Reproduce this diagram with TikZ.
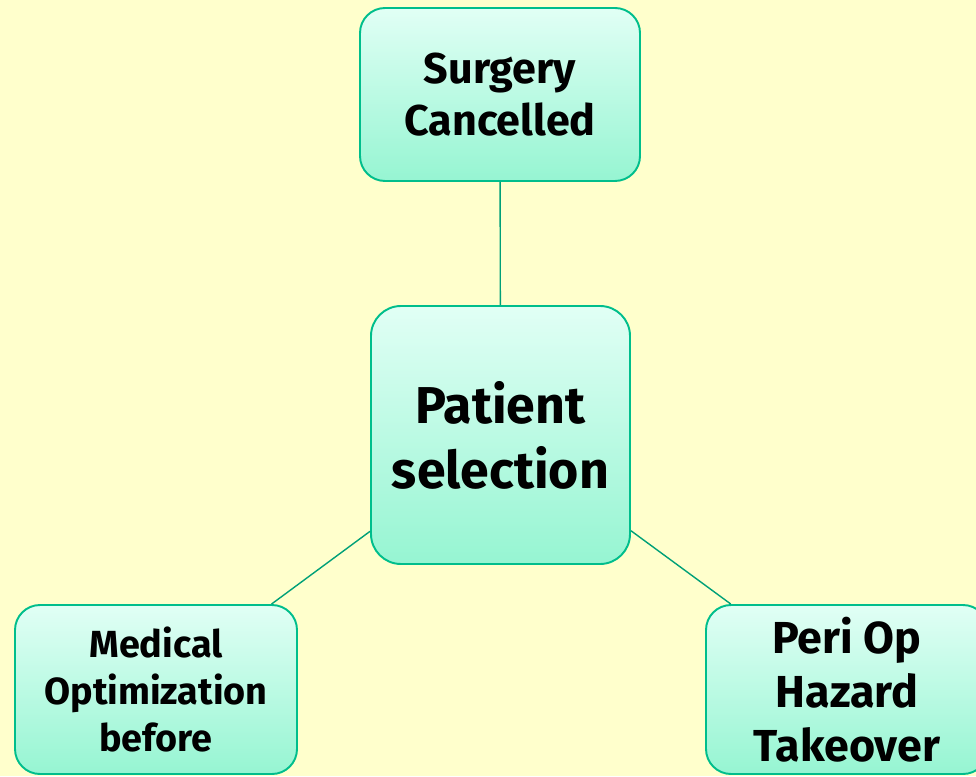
\documentclass[tikz,border=0pt]{standalone}
\usepackage{fontspec}
\setmainfont{Fira Sans}
\usepackage{tikz}
\definecolor{bgyellow}{RGB}{255,255,204}
\definecolor{boxline}{RGB}{0,190,140}
\definecolor{boxtop}{RGB}{225,255,245}
\definecolor{boxbot}{RGB}{150,245,210}
\definecolor{linkline}{RGB}{0,160,120}

\begin{document}
\begin{tikzpicture}[x=1cm,y=1cm,
  box/.style={draw=boxline,line width=1.1pt,rounded corners=0.5cm,
    top color=boxtop,bottom color=boxbot,align=center,inner sep=0pt},
  link/.style={draw=linkline,line width=0.8pt}]
\fill[bgyellow] (0,0) rectangle (19.52,15.52);
\useasboundingbox (0,0) rectangle (19.52,15.52);
\node[box,minimum width=5.6cm,minimum height=3.46cm,
  font=\bfseries\fontsize{24.5}{29.6}\selectfont] (cancel) at (10,13.63)
  {Surgery\\Cancelled};
\node[box,rounded corners=0.6cm,minimum width=5.18cm,minimum height=5.16cm,
  font=\bfseries\fontsize{29.5}{37}\selectfont] (select) at (10.01,6.82)
  {Patient\\selection};
\node[box,minimum width=5.64cm,minimum height=3.38cm,
  font=\bfseries\fontsize{21.5}{26.7}\selectfont] (medical) at (3.12,1.73)
  {Medical\\Optimization\\before};
\node[box,minimum width=5.64cm,minimum height=3.38cm,
  font=\bfseries\fontsize{25.5}{30.7}\selectfont] (hazard) at (16.94,1.73)
  {Peri Op\\Hazard\\Takeover};
\draw[link] (cancel) -- (select);
\draw[link] (select) -- (medical);
\draw[link] (select) -- (hazard);
\end{tikzpicture}
\end{document}
